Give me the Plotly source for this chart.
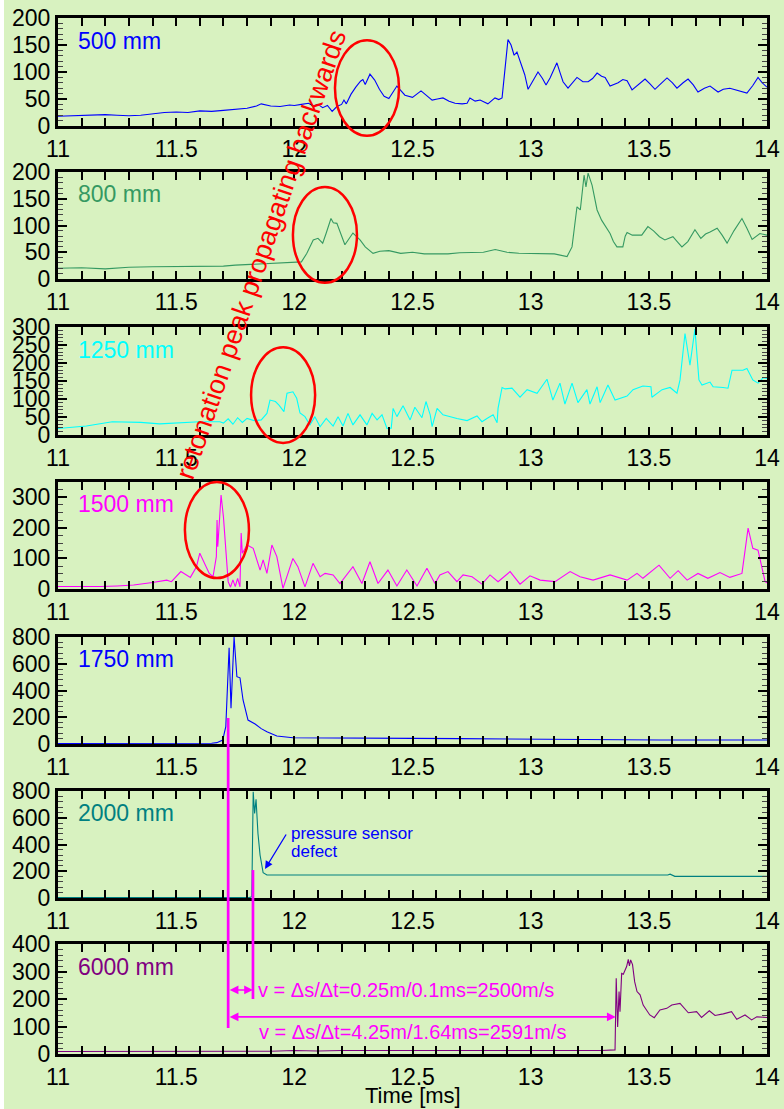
import plotly.graph_objects as go

# ---------------- data (time [ms], pressure) ----------------
sensor_names = ["500 mm", "800 mm", "1250 mm", "1500 mm", "1750 mm", "2000 mm", "6000 mm"]
sensor_colors = ["#0000ff", "#359962", "#00ffff", "#ff00ff", "#0000ff", "#008080", "#800080"]
y_max = [200, 200, 300, 350, 800, 800, 400]
y_major = [50, 50, 50, 100, 200, 200, 100]
y_minor = [10, 10, 10, 25, 40, 40, 20]
x_ticks = [11, 11.5, 12, 12.5, 13, 13.5, 14]

s500 = [(11.00, 18), (11.05, 19), (11.10, 20), (11.15, 21), (11.20, 21), (11.25, 20), (11.30, 19),
        (11.35, 20), (11.40, 23), (11.45, 25), (11.50, 26), (11.55, 25), (11.60, 28), (11.65, 27),
        (11.70, 29), (11.75, 31), (11.80, 33), (11.84, 37), (11.86, 41), (11.90, 37), (11.94, 36),
        (11.98, 39), (12.00, 38), (12.03, 40), (12.06, 42), (12.08, 37), (12.10, 40), (12.12, 34),
        (12.14, 38), (12.16, 27), (12.18, 36), (12.20, 40), (12.21, 48), (12.22, 41), (12.24, 59),
        (12.26, 72), (12.28, 83), (12.29, 86), (12.30, 77), (12.32, 96), (12.34, 85), (12.36, 68),
        (12.38, 55), (12.40, 51), (12.434, 74), (12.468, 57), (12.50, 53), (12.536, 65), (12.583, 48),
        (12.605, 50), (12.629, 52), (12.655, 46), (12.68, 42), (12.71, 41), (12.731, 42), (12.743, 52),
        (12.765, 46), (12.786, 48), (12.819, 41), (12.849, 52), (12.865, 49), (12.879, 52),
        (12.904, 160), (12.917, 150), (12.93, 131), (12.942, 137), (12.955, 119), (12.975, 95),
        (12.989, 68), (13.01, 84), (13.031, 100), (13.05, 88), (13.065, 76), (13.082, 89), (13.111, 117),
        (13.125, 98), (13.137, 82), (13.158, 70), (13.178, 80), (13.196, 90), (13.221, 82), (13.243, 82),
        (13.262, 88), (13.281, 98), (13.3, 92), (13.315, 90), (13.336, 74), (13.37, 80), (13.39, 86),
        (13.408, 84), (13.429, 67), (13.455, 76), (13.484, 87), (13.505, 78), (13.526, 68), (13.55, 78),
        (13.577, 89), (13.6, 80), (13.619, 70), (13.645, 80), (13.666, 87), (13.688, 76), (13.708, 63),
        (13.735, 70), (13.759, 74), (13.793, 63), (13.815, 68), (13.843, 70), (13.88, 66), (13.915, 61),
        (13.94, 75), (13.962, 90), (13.98, 80), (14.0, 72)]

s800 = [(11.00, 20), (11.10, 21), (11.20, 19), (11.30, 22), (11.40, 23), (11.50, 23), (11.60, 23),
        (11.70, 24), (11.75, 26), (11.80, 27), (11.85, 29), (11.90, 29), (11.95, 30), (12.00, 31),
        (12.03, 32), (12.053, 48), (12.08, 73), (12.10, 76), (12.12, 67), (12.135, 86), (12.155, 113),
        (12.165, 105), (12.18, 104), (12.214, 64), (12.248, 86), (12.278, 73), (12.30, 60), (12.333, 48),
        (12.362, 52), (12.40, 53), (12.45, 48), (12.50, 50), (12.55, 47), (12.60, 47), (12.65, 47),
        (12.70, 49), (12.75, 50), (12.80, 50), (12.85, 55), (12.90, 50), (12.95, 48), (13.00, 48),
        (13.05, 47), (13.10, 47), (13.154, 42), (13.175, 60), (13.196, 135), (13.21, 129),
        (13.226, 194), (13.234, 172), (13.243, 198), (13.26, 175), (13.281, 129), (13.30, 110),
        (13.336, 85), (13.35, 70), (13.365, 60), (13.39, 60), (13.40, 80), (13.408, 87), (13.43, 82),
        (13.47, 82), (13.496, 98), (13.52, 90), (13.545, 79), (13.568, 73), (13.585, 76), (13.602, 79),
        (13.62, 70), (13.64, 60), (13.665, 70), (13.695, 92), (13.72, 76), (13.74, 84), (13.759, 88),
        (13.789, 95), (13.81, 82), (13.831, 67), (13.86, 90), (13.894, 113), (13.915, 95), (13.937, 74),
        (13.97, 85), (14.0, 82)]

s1250 = [(11.00, 18), (11.12, 25), (11.23, 37), (11.30, 36), (11.35, 35), (11.43, 31), (11.50, 33),
         (11.546, 35), (11.60, 37), (11.685, 37), (11.70, 33), (11.72, 45), (11.74, 30), (11.76, 48),
         (11.78, 35), (11.80, 46), (11.83, 40), (11.86, 42), (11.884, 60), (11.897, 97), (11.92, 93),
         (11.935, 83), (11.956, 65), (11.969, 116), (11.994, 120), (12.01, 102), (12.024, 61),
         (12.045, 51), (12.066, 28), (12.087, 51), (12.109, 23), (12.135, 46), (12.164, 25),
         (12.185, 51), (12.206, 25), (12.227, 60), (12.248, 28), (12.278, 56), (12.307, 28),
         (12.329, 60), (12.35, 42), (12.371, 56), (12.392, 18), (12.41, 19), (12.418, 74), (12.434, 51),
         (12.46, 81), (12.49, 42), (12.51, 77), (12.54, 48), (12.557, 93), (12.575, 56), (12.583, 23),
         (12.604, 74), (12.629, 56), (12.688, 46), (12.731, 40), (12.773, 53), (12.794, 37),
         (12.815, 46), (12.841, 56), (12.858, 34), (12.862, 74), (12.879, 132), (12.892, 128),
         (12.921, 130), (12.955, 105), (12.985, 126), (13.027, 116), (13.069, 155), (13.094, 97),
         (13.124, 144), (13.145, 86), (13.175, 144), (13.20, 90), (13.238, 126), (13.251, 86),
         (13.281, 134), (13.294, 90), (13.327, 139), (13.357, 97), (13.408, 108), (13.433, 126),
         (13.475, 136), (13.509, 134), (13.513, 105), (13.556, 126), (13.59, 132), (13.619, 116),
         (13.632, 153), (13.653, 282), (13.674, 194), (13.695, 294), (13.712, 153), (13.725, 139),
         (13.759, 147), (13.772, 134), (13.814, 132), (13.835, 130), (13.852, 180), (13.898, 180),
         (13.915, 185), (13.94, 153), (13.962, 144), (13.983, 159), (14.0, 157)]

s1500 = [(11.00, 8), (11.10, 7), (11.18, 8), (11.25, 10), (11.32, 13), (11.40, 21), (11.46, 29),
         (11.48, 24), (11.52, 57), (11.56, 38), (11.586, 73), (11.60, 117), (11.62, 84), (11.64, 51),
         (11.656, 40), (11.67, 106), (11.673, 226), (11.676, 138), (11.69, 307), (11.70, 236),
         (11.72, 24), (11.73, 6), (11.74, 30), (11.75, 8), (11.76, 35), (11.77, 7), (11.775, 183),
         (11.78, 117), (11.80, 144), (11.826, 133), (11.855, 62), (11.868, 95), (11.884, 51),
         (11.905, 144), (11.926, 106), (11.952, 2), (11.994, 100), (12.015, 73), (12.045, 7),
         (12.079, 84), (12.109, 40), (12.13, 51), (12.164, 46), (12.193, 18), (12.248, 73),
         (12.286, 18), (12.32, 89), (12.354, 18), (12.396, 62), (12.434, 10), (12.476, 62),
         (12.519, 10), (12.561, 68), (12.595, 18), (12.616, 46), (12.65, 57), (12.688, 24),
         (12.714, 46), (12.752, 40), (12.794, 16), (12.828, 46), (12.862, 24), (12.913, 57),
         (12.955, 16), (12.997, 43), (13.04, 29), (13.103, 24), (13.167, 57), (13.209, 40),
         (13.264, 29), (13.336, 46), (13.408, 29), (13.45, 51), (13.475, 35), (13.543, 78),
         (13.59, 35), (13.624, 60), (13.662, 29), (13.708, 51), (13.75, 35), (13.801, 54),
         (13.843, 38), (13.894, 51), (13.92, 199), (13.94, 133), (13.962, 127), (13.992, 24),
         (14.0, 20)]

s1750 = [(11.00, 4), (11.30, 4), (11.60, 4), (11.65, 6), (11.672, 10), (11.697, 30), (11.71, 130),
         (11.724, 720), (11.732, 267), (11.745, 800), (11.757, 503), (11.77, 495), (11.783, 329),
         (11.804, 179), (11.834, 150), (11.86, 115), (11.884, 92), (11.926, 60), (11.994, 47),
         (12.10, 45), (12.30, 44), (12.50, 42), (12.70, 40), (13.00, 36), (13.30, 33), (13.50, 30),
         (13.52, 25), (13.55, 30), (13.60, 30), (14.0, 30)]

s2000 = [(11.00, 3), (11.50, 3), (11.81, 3), (11.82, 10), (11.826, 795), (11.832, 633),
         (11.838, 738), (11.846, 484), (11.855, 321), (11.868, 189), (11.884, 172), (12.50, 172),
         (13.00, 172), (13.58, 172), (13.59, 178), (13.61, 162), (14.0, 162)]

s6000 = [(11.00, 9), (11.50, 9), (11.90, 10), (12.00, 13), (12.10, 11), (12.20, 13), (12.50, 12),
         (13.00, 13), (13.30, 13), (13.345, 14), (13.357, 15), (13.362, 275), (13.368, 98),
         (13.374, 227), (13.378, 154), (13.385, 293), (13.392, 290), (13.406, 318), (13.413, 344),
         (13.418, 320), (13.423, 342), (13.431, 325), (13.44, 263), (13.45, 227), (13.463, 215),
         (13.476, 178), (13.49, 160), (13.504, 142), (13.523, 132), (13.547, 160), (13.576, 166),
         (13.597, 178), (13.632, 184), (13.667, 150), (13.702, 154), (13.723, 133), (13.756, 157),
         (13.78, 140), (13.815, 146), (13.85, 154), (13.872, 126), (13.907, 142), (13.935, 124),
         (13.957, 135), (14.0, 133)]

series = [s500, s800, s1250, s1500, s1750, s2000, s6000]

# ---------------- layout geometry ----------------
W, H = 784, 1109
ML, MR, MT, MB = 58, 17, 18, 55
PH = H - MT - MB
panel_top = [18, 172, 327, 482, 637, 791, 944]
panel_bot = [126, 279, 435, 589, 744, 898, 1054]


def py2paper(py):
    return (H - MB - py) / PH


def px2paper(px):
    return (px - ML) / (W - ML - MR)


domains = [[py2paper(b), py2paper(t)] for t, b in zip(panel_top, panel_bot)]


def to_paper(i, v):
    d = domains[i]
    return d[0] + v / y_max[i] * (d[1] - d[0])


FONT = "Liberation Sans, Arial, sans-serif"
BG = "#d8f2c0"
TICKSIZE = 23

fig = go.Figure()
for i, s in enumerate(series):
    t = [p[0] for p in s]
    v = [p[1] for p in s]
    fig.add_trace(go.Scatter(x=t, y=v, mode="lines", line=dict(color=sensor_colors[i], width=1.1),
                             xaxis="x" if i == 0 else f"x{i+1}", yaxis="y" if i == 0 else f"y{i+1}",
                             showlegend=False, hoverinfo="skip"))

layout = dict(template="none", width=W, height=H, margin=dict(l=ML, r=MR, t=MT, b=MB, pad=0),
              paper_bgcolor=BG, plot_bgcolor=BG, showlegend=False,
              font=dict(family=FONT, size=22, color="black"))

for i in range(7):
    sx = "" if i == 0 else str(i + 1)
    layout["xaxis" + sx] = dict(
        domain=[0, 1], range=[11, 14], anchor="y" + sx, showgrid=False, zeroline=False,
        automargin=False,
        showline=True, mirror="ticks", linecolor="black", linewidth=3,
        tickmode="array", tickvals=x_ticks, ticktext=[f"{v:g}" for v in x_ticks],
        ticks="inside", ticklen=8, tickwidth=1.5, tickcolor="black",
        minor=dict(ticks="inside", dtick=0.1, tick0=11, ticklen=8, tickwidth=1.5, tickcolor="black"),
        tickfont=dict(family=FONT, size=TICKSIZE, color="black"), ticklabelstandoff=0)
    layout["yaxis" + sx] = dict(
        domain=domains[i], range=[0, y_max[i]], anchor="x" + sx, showgrid=False, zeroline=False,
        automargin=False,
        showline=True, mirror="ticks", linecolor="black", linewidth=3,
        tick0=0, dtick=y_major[i], ticks="inside", ticklen=9, tickwidth=1.5, tickcolor="black",
        minor=dict(ticks="inside", dtick=y_minor[i], ticklen=5, tickwidth=1.2, tickcolor="#444444"),
        tickfont=dict(family=FONT, size=TICKSIZE, color="black"), ticklabelstandoff=0)

fig.update_layout(**layout)

shapes = []
# white strip at left edge
shapes.append(dict(type="rect", xref="paper", yref="paper", x0=px2paper(0), x1=px2paper(4),
                   y0=py2paper(H), y1=py2paper(0), fillcolor="white", line=dict(width=0), layer="below"))

# red ellipses (time range, panel index, value range)
ellipses = [((12.172, 12.443), 0, (-18, 159)), ((11.994, 12.265), 1, (-7, 172)),
            ((11.817, 12.088), 2, (-22, 244)), ((11.537, 11.808), 3, (36, 350))]
for (x0, x1), pi, (v0, v1) in ellipses:
    shapes.append(dict(type="circle", xref="x", yref="paper", x0=x0, x1=x1,
                       y0=to_paper(pi, v0), y1=to_paper(pi, v1),
                       line=dict(color="#ff0000", width=2.5), layer="above"))

# magenta vertical marker lines
t_arr1, t_arr2, t_arr3 = 11.72, 11.825, 13.36
shapes.append(dict(type="line", xref="x", yref="paper", x0=t_arr1, x1=t_arr1,
                   y0=to_paper(6, 95), y1=to_paper(4, 195), line=dict(color="#ff00ff", width=2.7)))
shapes.append(dict(type="line", xref="x", yref="paper", x0=t_arr2, x1=t_arr2,
                   y0=to_paper(6, 200), y1=to_paper(5, 209), line=dict(color="#ff00ff", width=2.7)))
fig.update_layout(shapes=shapes)

ann = []
for i in range(7):
    sx = "" if i == 0 else str(i + 1)
    ann.append(dict(xref=f"x{sx} domain", yref=f"y{sx} domain", x=0.026, y=0.79, xanchor="left",
                    yanchor="middle", text=sensor_names[i], showarrow=False,
                    font=dict(family=FONT, size=23, color=sensor_colors[i])))

# rotated annotation
ann.append(dict(xref="paper", yref="paper", x=px2paper(261), y=py2paper(255),
                text="retonation peak propagating backwards",
                textangle=-71, showarrow=False, xanchor="center", yanchor="middle",
                font=dict(family=FONT, size=27, color="#ff0000")))

# pressure sensor defect
ann.append(dict(xref="x6", yref="y6", x=11.977, y=485, text="pressure sensor", showarrow=False,
                xanchor="left", yanchor="middle", font=dict(family=FONT, size=17, color="#0000ff")))
ann.append(dict(xref="x6", yref="y6", x=11.977, y=350, text="defect", showarrow=False,
                xanchor="left", yanchor="middle", font=dict(family=FONT, size=17, color="#0000ff")))
ann.append(dict(xref="x6", yref="y6", x=11.876, y=217, ax=22, ay=-36, text="", showarrow=True,
                arrowhead=2, arrowsize=1.2, arrowwidth=1.3, arrowcolor="#0000ff"))

# velocity arrows
ann.append(dict(xref="x7", yref="y7", axref="x7", ayref="y7", x=t_arr2, y=233, ax=t_arr1, ay=233,
                text="", showarrow=True, arrowhead=2, startarrowhead=2, arrowside="end+start",
                arrowsize=1.1, startarrowsize=1.1, arrowwidth=1.6, arrowcolor="#ff00ff"))
ann.append(dict(xref="x7", yref="y7", axref="x7", ayref="y7", x=t_arr3, y=135, ax=t_arr1, ay=135,
                text="", showarrow=True, arrowhead=2, startarrowhead=2, arrowside="end+start",
                arrowsize=1.1, startarrowsize=1.1, arrowwidth=1.6, arrowcolor="#ff00ff"))
ann.append(dict(xref="x7", yref="y7", x=11.838, y=233, text="v = Δs/Δt=0.25m/0.1ms=2500m/s",
                showarrow=False, xanchor="left", yanchor="middle",
                font=dict(family=FONT, size=20, color="#ff00ff")))
ann.append(dict(xref="x7", yref="y7", x=11.842, y=80, text="v = Δs/Δt=4.25m/1.64ms=2591m/s",
                showarrow=False, xanchor="left", yanchor="middle",
                font=dict(family=FONT, size=20, color="#ff00ff")))

# x-axis title
ann.append(dict(xref="paper", yref="paper", x=0.5, y=py2paper(1095), text="Time [ms]", showarrow=False,
                xanchor="center", yanchor="middle", font=dict(family=FONT, size=22, color="black")))

fig.update_layout(annotations=ann)
fig.write_html("out.html")
